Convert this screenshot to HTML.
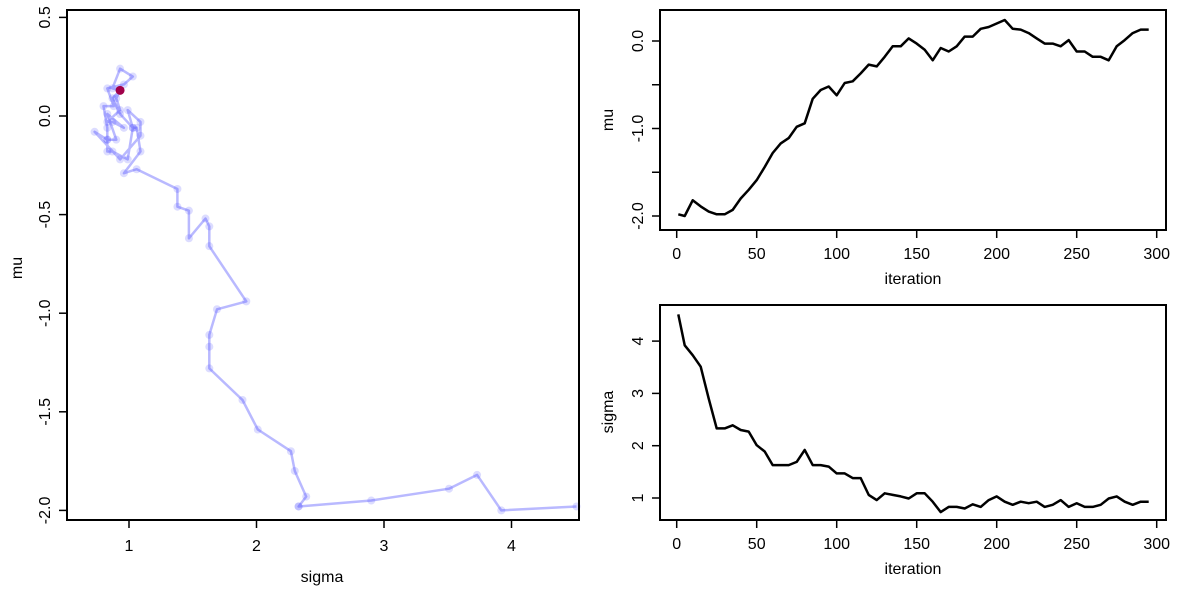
<!DOCTYPE html>
<html><head><meta charset="utf-8"><style>
html,body{margin:0;padding:0;background:#fff;}
svg{display:block;font-family:"Liberation Sans",Arial,sans-serif;}
</style></head><body>
<svg id="c" width="1181" height="590" viewBox="0 0 1181 590"></svg>
<script>
const iterations = [1,5,10,15,20,25,30,35,40,45,50,55,60,65,70,75,80,85,90,95,100,105,110,115,120,125,130,135,140,145,150,155,160,165,170,175,180,185,190,195,200,205,210,215,220,225,230,235,240,245,250,255,260,265,270,275,280,285,290,295];
const muValues = [-1.98,-2.0,-1.82,-1.89,-1.95,-1.98,-1.98,-1.93,-1.80,-1.70,-1.59,-1.44,-1.28,-1.17,-1.11,-0.98,-0.94,-0.66,-0.56,-0.52,-0.62,-0.48,-0.46,-0.37,-0.27,-0.29,-0.18,-0.06,-0.06,0.03,-0.03,-0.10,-0.22,-0.08,-0.12,-0.06,0.05,0.05,0.14,0.16,0.20,0.24,0.14,0.13,0.09,0.03,-0.03,-0.03,-0.06,0.01,-0.12,-0.12,-0.18,-0.18,-0.22,-0.06,0.01,0.09,0.13,0.13];
const sigmaValues = [4.51,3.92,3.73,3.51,2.90,2.33,2.33,2.39,2.30,2.27,2.01,1.89,1.63,1.63,1.63,1.69,1.92,1.63,1.63,1.60,1.47,1.47,1.38,1.38,1.06,0.96,1.09,1.06,1.03,0.99,1.09,1.09,0.93,0.73,0.83,0.83,0.80,0.88,0.83,0.96,1.03,0.93,0.87,0.93,0.90,0.93,0.83,0.87,0.96,0.83,0.90,0.83,0.83,0.87,0.99,1.03,0.93,0.87,0.93,0.93];
const sigmaTicks = [1,2,3,4];
const muTicksLeft = ["0.5","0.0","-0.5","-1.0","-1.5","-2.0"];
const iterTicks = [0,50,100,150,200,250,300];
const muTraceTicks = ["0.0","-1.0","-2.0"];
const sigmaTraceTicks = [1,2,3,4];

const NS="http://www.w3.org/2000/svg";
const svg=document.getElementById('c');
function el(tag,attrs,parent){const e=document.createElementNS(NS,tag);for(const k in attrs)e.setAttribute(k,attrs[k]);(parent||svg).appendChild(e);return e;}
function txt(s,x,y,rot,size,parent){const t=el('text',{x:x,y:y,'font-size':size||16,'text-anchor':'middle',fill:'#000'},parent);if(rot)t.setAttribute('transform','rotate(-90 '+x+' '+y+')');t.textContent=s;return t;}

const lx=v=>129+(v-1)*127.5, ly=v=>116-v*197.2;
const ix=v=>676.7+v*1.6;
const muy=v=>41-v*87.5;
const sgy=v=>498-(v-1)*52.3;

const gL=el('g',{});

let d='';
for(let i=0;i<iterations.length;i++){d+=(i?'L':'M')+lx(sigmaValues[i]).toFixed(1)+' '+ly(muValues[i]).toFixed(1);}
const pth=el('path',{d:d,fill:'none',stroke:'rgba(70,70,255,0.38)','stroke-width':2.5,'stroke-linejoin':'round'},gL);

for(let i=0;i<iterations.length;i++){
  const c=el('circle',{cx:lx(sigmaValues[i]),cy:ly(muValues[i]),r:4,fill:'rgba(60,60,255,0.18)'},gL);
  
  
}
const last=iterations.length-1;
const cp=el('circle',{cx:lx(sigmaValues[last]),cy:ly(muValues[last]),r:4.5,fill:'#a0004a'},gL);


const fL=el('rect',{x:67,y:10,width:512,height:510,fill:'none',stroke:'#000','stroke-width':2},gL);

sigmaTicks.forEach(v=>{el('line',{x1:lx(v),x2:lx(v),y1:520,y2:528,stroke:'#000','stroke-width':1.5},gL);const t=txt(String(v),lx(v),551,0,16,gL);});
muTicksLeft.forEach(s=>{const v=parseFloat(s);el('line',{x1:59,x2:67,y1:ly(v),y2:ly(v),stroke:'#000','stroke-width':1.5},gL);const t=txt(s,50,ly(v),true,16,gL);});
let t1=txt('sigma',322,582,0,16,gL);
let t2=txt('mu',22,268,true,16,gL);

function trace(vals,yf,y0,y1,ticks,tickVals,minor,title,tyl,name){
  const g=el('g',{});
  
  let dd='';
  for(let i=0;i<iterations.length;i++){dd+=(i?'L':'M')+ix(iterations[i]).toFixed(1)+' '+yf(vals[i]).toFixed(1);}
  const p=el('path',{d:dd,fill:'none',stroke:'#000','stroke-width':2.5,'stroke-linejoin':'round'},g);
  
  const f=el('rect',{x:660,y:y0,width:506,height:y1-y0,fill:'none',stroke:'#000','stroke-width':2},g);
  
  iterTicks.forEach(v=>{el('line',{x1:ix(v),x2:ix(v),y1:y1,y2:y1+8,stroke:'#000','stroke-width':1.5},g);const t=txt(String(v),ix(v),y1+29,0,16,g);});
  ticks.forEach((s,i)=>{const v=tickVals[i];el('line',{x1:652,x2:660,y1:yf(v),y2:yf(v),stroke:'#000','stroke-width':1.5},g);const t=txt(s,643,yf(v),true,16,g);});
  minor.forEach(v=>el('line',{x1:652,x2:660,y1:yf(v),y2:yf(v),stroke:'#000','stroke-width':1.5},g));
  const a=txt('iteration',913,y1+54,0,16,g);
  const b=txt(title,613,tyl,true,16,g);
}
trace(muValues,muy,10,230,muTraceTicks,muTraceTicks.map(parseFloat),[-0.5,-1.5],'mu',120,'mu-trace-panel');
trace(sigmaValues,sgy,305,520,sigmaTraceTicks.map(String),sigmaTraceTicks,[],'sigma',412,'sigma-trace-panel');
</script>
</body></html>
